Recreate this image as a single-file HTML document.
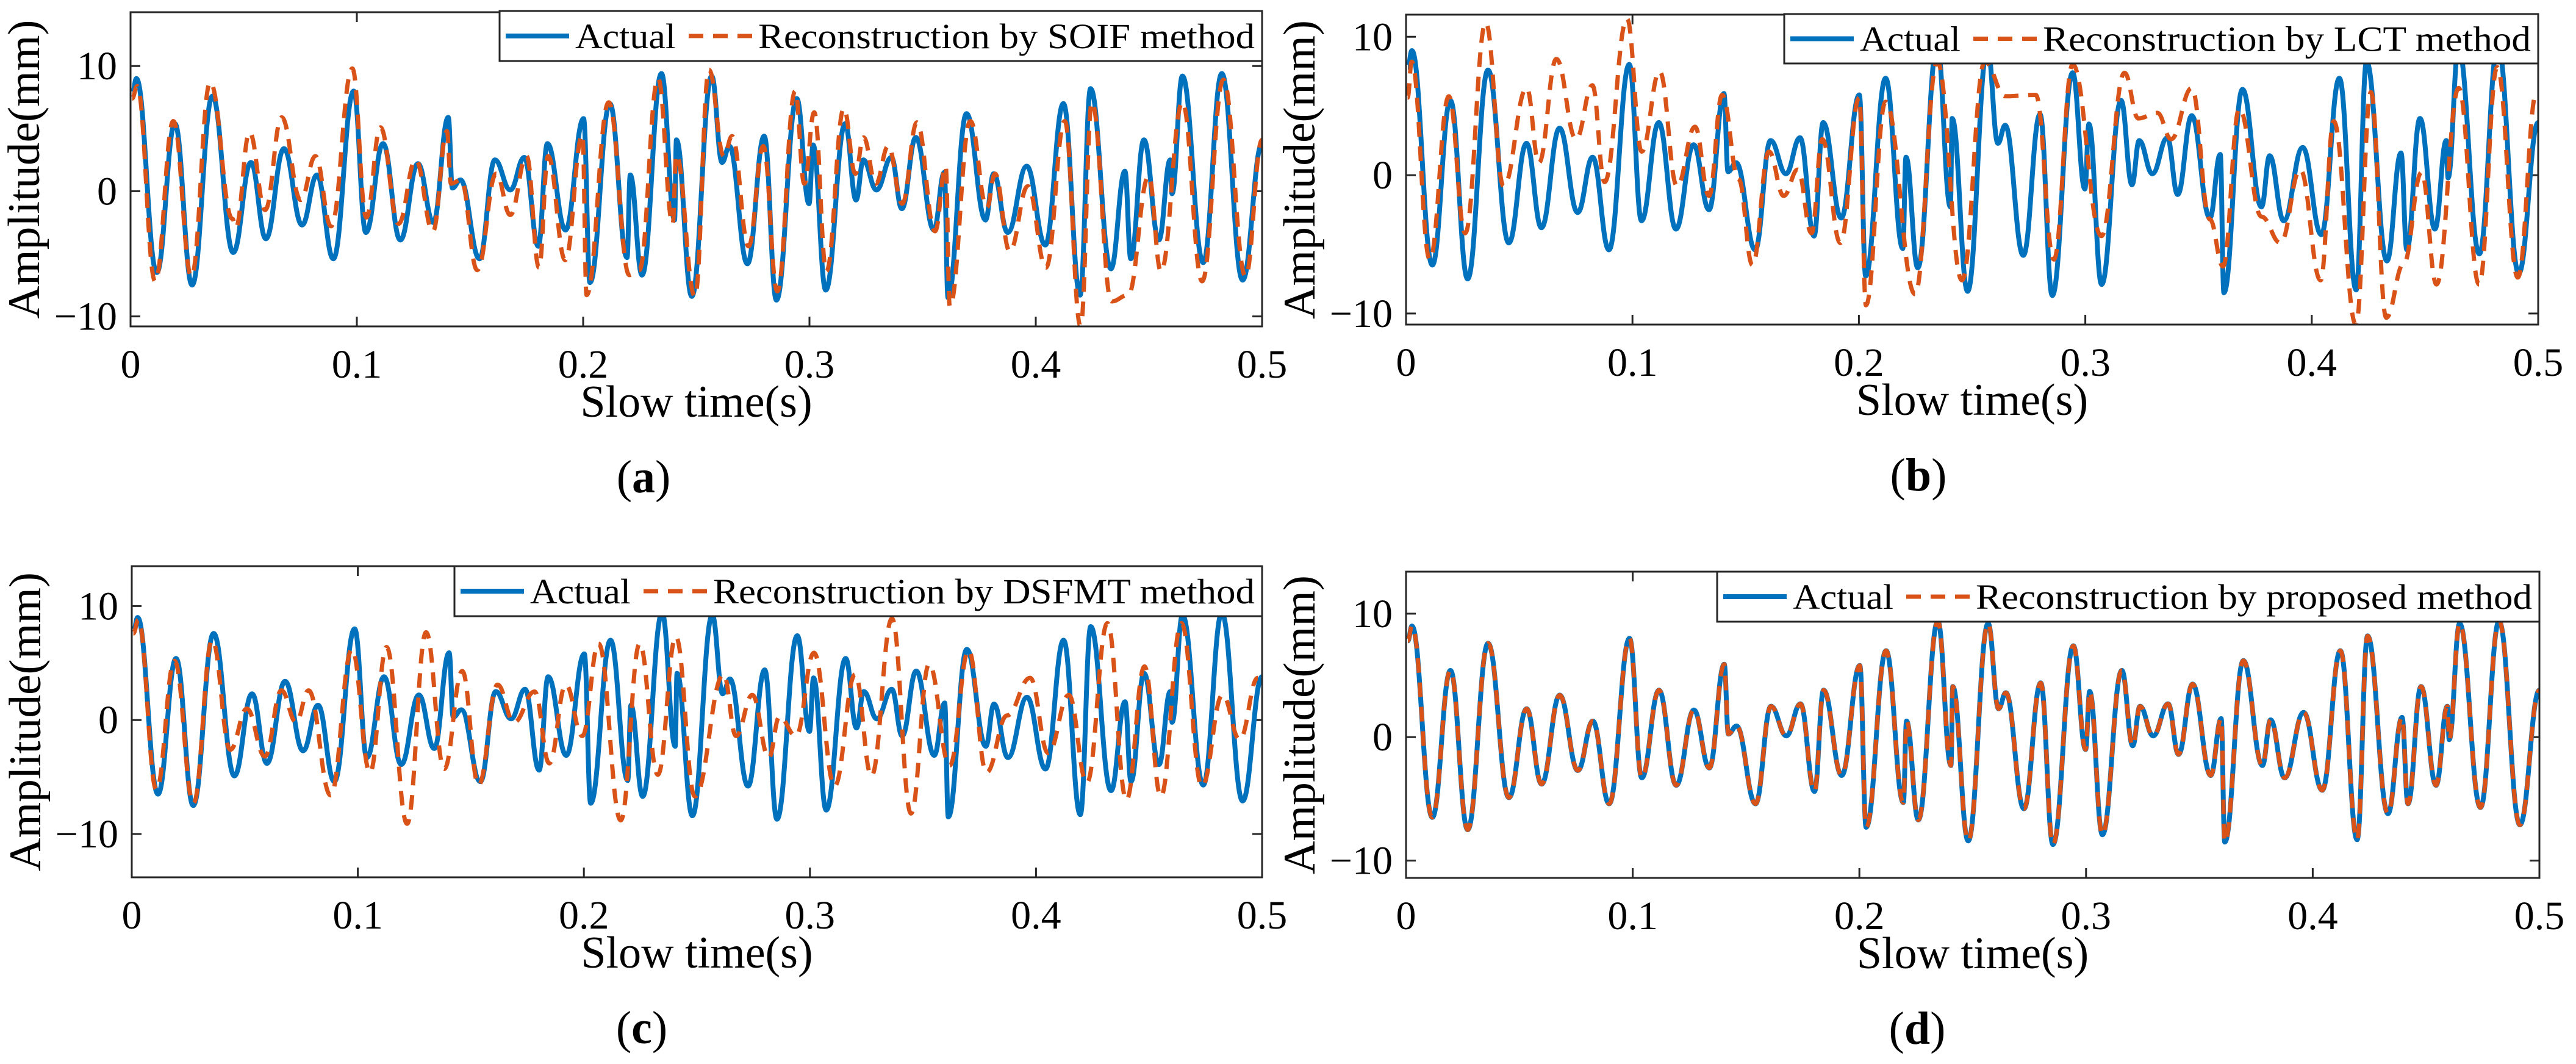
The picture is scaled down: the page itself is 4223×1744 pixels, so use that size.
<!DOCTYPE html>
<html><head><meta charset="utf-8"><style>
html,body{margin:0;padding:0;background:#fff}
svg{display:block}
text{font-family:"Liberation Serif",serif;fill:#000}
</style></head><body>
<svg id="fig" width="4223" height="1744" viewBox="0 0 4223 1744" xmlns="http://www.w3.org/2000/svg"></svg>
<script>
// ---- data (time in ms, amplitude in mm) at signal extrema ----
const actualT=[0.8,2.6,11.6,19.6,27.2,36.2,45.4,53.2,59.8,67.8,75.8,82.4,89.6,98.6,104,111.6,119.2,127,133.8,140.4,142.2,145.8,154.2,161,167.8,174,180.2,184.2,192.2,200.2,203,211.8,219.4,220.8,226,234.6,240.4,241.2,248,256.8,261.4,264.6,272.6,280,285.4,294.4,299.8,301.6,307.2,315.8,320.6,323.8,329.6,336.2,340.8,347,355,359.6,361.2,369.4,377.8,381.4,387.6,396,404.2,412.2,419.6,424.2,433.2,439.4,442,447.8,454.4,459.4,460.2,464.8,474,482.2,491.4,500];
const actualV=[7.8,9.0,-6.5,5.4,-7.5,7.6,-4.9,2.3,-3.8,3.4,-2.7,1.3,-5.4,8.0,-3.3,3.8,-3.9,2.2,-2.5,5.9,0.25,0.9,-5.4,2.5,0.1,2.7,-4.4,3.8,-3.1,5.8,-7.3,7.0,-5.3,1.3,-6.7,9.4,-2.3,4.1,-8.4,9.2,2.3,3.6,-5.8,4.4,-8.7,7.4,-1.0,3.7,-7.9,5.4,-0.7,2.5,0.1,2.7,-1.4,4.3,-3.1,1.5,-8.5,6.2,-2.3,1.4,-3.3,2.0,-4.3,7.0,-8.3,8.2,-6.2,1.6,-5.4,4.1,-3.9,2.5,-0.2,9.2,-5.7,9.4,-7.1,3.8];
const soifT=[0.7,2.9,10.9,18.9,26.9,35.2,45.0,46.5,52.6,59.5,66.8,75.2,81.7,88.6,98.0,104.2,110.4,118.4,126.0,133.6,139.8,141.6,146.0,153.2,161.6,167.8,175.0,180.5,184.5,192.1,199.7,201.5,211.3,220.4,224.8,233.1,239.6,241.1,249.4,255.6,262.2,265.8,273.1,279.6,285.8,293.7,297.7,302.1,307.5,315.2,320.3,323.9,329.3,334.8,341.0,347.5,355.5,360.2,362.0,371.1,378.4,382.0,388.5,396.5,404.5,412.8,419.8,424.8,433.5,440.8,449.9,455.3,464.8,473.5,482.9,492.7,500];
const soifV=[7.4,8.4,-7.2,5.6,-6.8,8.7,-2.2,-2.9,4.7,-1.5,5.9,-0.7,2.8,-2.8,9.8,-2.1,5.1,-2.6,2.5,-3.2,4.8,0.6,0.9,-6.3,1.4,-1.9,2.8,-6.1,2.8,-5.5,4.5,-8.3,7.1,-6.7,-6.3,9.0,-2.6,2.9,-8.4,9.7,2.8,4.4,-4.4,3.6,-8.0,8.0,0.6,6.3,-6.4,6.6,1.4,4.3,0.6,3.6,-1.0,5.5,-3.2,2.0,-9.2,5.6,-1.3,1.4,-4.8,0.4,-6.1,5.6,-10.8,7.1,-8.8,-8.3,1.2,-6.4,7.1,-7.2,8.9,-6.8,4.1];
const lctT=[0.7,2.5,10.5,18.9,26.1,35.2,43.1,53.3,58.7,66.4,75.1,82.3,87.7,97.6,104.1,112.0,119.7,127.6,133.8,139.6,146.9,153.0,160.3,166.8,173.0,179.1,183.8,191.8,200.2,203.1,211.8,224.8,234.6,245.5,255.6,264.7,278.1,286.1,294.4,307.1,317.3,323.4,331.8,337.9,347.0,355.0,360.8,368.0,377.8,386.2,394.9,403.9,409.7,419.5,426.1,432.9,440.6,448.5,455.1,464.9,473.9,481.9,491.0,499.3];
const lctV=[5.6,8.2,-6.1,5.7,-4.2,11.0,-0.8,6.3,0.9,8.4,2.6,6.5,-0.5,11.3,1.7,7.5,-0.8,3.5,-1.5,5.8,-0.3,-6.5,1.7,-1.5,0.4,-4.2,2.6,-4.9,5.6,-9.4,5.3,-8.6,8.2,-7.6,8.2,5.7,5.8,-6.1,8.0,-4.4,7.4,4.1,4.5,2.6,6.3,-3.2,-6.6,4.8,-3.0,-4.9,0.4,-7.6,3.9,-10.8,6.0,-10.3,-6.4,0.2,-7.9,6.3,-7.9,7.8,-7.4,6.0];
const dsfmtT=[0.7,2.9,10.9,18.9,27.3,35.6,43.6,50.9,58.9,66.2,72.7,78.2,88.0,97.4,105.4,112.7,121.8,130.2,138.2,146.2,153.4,161.8,169.1,178.2,184.7,192.0,199.3,206.5,216.3,224.7,232.7,240.7,249.1,261.8,267.3,274.5,281.8,286.5,293.8,301.8,310.9,320.0,327.2,336.3,344.7,352.7,361.8,370.2,378.1,387.2,397.4,405.4,414.5,422.5,431.6,440.0,448.0,455.2,464.3,473.4,482.5,490.1,498.1];
const dsfmtV=[7.6,8.8,-6.1,5.2,-7.3,7.0,-2.6,1.0,-3.2,2.6,-0.2,2.6,-6.6,6.2,-4.6,6.4,-9.1,7.7,-4.3,4.3,-5.7,3.1,-0.2,2.5,-3.8,3.1,-1.4,6.7,-8.8,6.7,-4.8,7.3,-6.7,4.0,-1.4,2.2,-3.3,0.3,-1.4,5.9,-5.8,4.0,-4.9,8.9,-8.2,4.9,-4.0,6.1,-4.6,0.4,3.7,-2.9,2.2,-5.5,8.5,-7.0,4.7,-6.7,8.5,-5.8,2.2,-1.7,3.7];
const xTicks=[0,0.1,0.2,0.3,0.4,0.5];
const xTickLabels=["0","0.1","0.2","0.3","0.4","0.5"];
const yTicks=[-10,0,10];
const yTickLabels=["\u221210","0","10"];

const NS="http://www.w3.org/2000/svg";
const svg=document.getElementById('fig');
function mk(tag,attrs,parent){const e=document.createElementNS(NS,tag);for(const k in attrs)e.setAttribute(k,attrs[k]);(parent||svg).appendChild(e);return e;}

const panels=[
 {id:'a',L:214,R:2069,T:20,B:535,ymin:-10.8,ymax:14.3,lg:819,lgT:18,lgB:100,name:'Reconstruction by SOIF method',rt:soifT,rv:soifV,cap:1055},
 {id:'b',L:2305,R:4161,T:24,B:532,ymin:-10.8,ymax:11.6,lg:2925,lgT:23,lgB:104,name:'Reconstruction by LCT method',rt:lctT,rv:lctV,cap:3145},
 {id:'c',L:216,R:2069,T:928,B:1438,ymin:-13.8,ymax:13.5,lg:745,lgT:928,lgB:1010,name:'Reconstruction by DSFMT method',rt:dsfmtT,rv:dsfmtV,cap:1052},
 {id:'d',L:2305,R:4163,T:937,B:1439,ymin:-11.4,ymax:13.4,lg:2815,lgT:937,lgB:1019,name:'Reconstruction by proposed method',rt:actualT,rv:actualV,cap:3143}
];

function pathFrom(ts,vs,xs,ys){
  let d='M'+xs(ts[0]/1000).toFixed(1)+','+ys(vs[0]).toFixed(1);
  for(let i=1;i<ts.length;i++){
    const x0=xs(ts[i-1]/1000),y0=ys(vs[i-1]),x1=xs(ts[i]/1000),y1=ys(vs[i]);
    const dx=(x1-x0)/2.4;
    d+=' C'+(x0+dx).toFixed(1)+','+y0.toFixed(1)+' '+(x1-dx).toFixed(1)+','+y1.toFixed(1)+' '+x1.toFixed(1)+','+y1.toFixed(1);
  }
  return d;
}

panels.forEach(p=>{
  const g=mk('g',{});
  
  
  const xs=t=>p.L+(t/0.5)*(p.R-p.L);
  const ys=v=>p.B-(v-p.ymin)/(p.ymax-p.ymin)*(p.B-p.T);
  const cp=mk('clipPath',{id:'clip'+p.id},g);
  mk('rect',{x:p.L,y:p.T,width:p.R-p.L,height:p.B-p.T},cp);
  // ticks
  xTicks.forEach((t,i)=>{
    const x=xs(t);
    const tk=mk('path',{d:`M${x},${p.B}V${p.B-16}M${x},${p.T}V${p.T+16}`,stroke:'#262626','stroke-width':3},g);
    
    
    const lb=mk('text',{x:x,y:p.B+84,'font-size':66,'text-anchor':'middle'},g);
    lb.textContent=xTickLabels[i];
    
    
  });
  yTicks.forEach((v,i)=>{
    const y=ys(v);
    const tk=mk('path',{d:`M${p.L},${y}H${p.L+16}M${p.R},${y}H${p.R-16}`,stroke:'#262626','stroke-width':3},g);
    
    
    const lb=mk('text',{x:p.L-22,y:y+22,'font-size':66,'text-anchor':'end'},g);
    lb.textContent=yTickLabels[i];
    
    
  });
  // series
  const lines=mk('g',{'clip-path':`url(#clip${p.id})`,fill:'none','stroke-linejoin':'round'},g);
  const a=mk('path',{d:pathFrom(actualT,actualV,xs,ys),stroke:'#0072BD','stroke-width':8},lines);
  
  
  const r=mk('path',{d:pathFrom(p.rt,p.rv,xs,ys),stroke:'#D95319','stroke-width':7,'stroke-dasharray':'24 16'},lines);
  
  
  // axes box
  const bx=mk('rect',{x:p.L,y:p.T,width:p.R-p.L,height:p.B-p.T,fill:'none',stroke:'#262626','stroke-width':3},g);
  
  
  // legend
  const lg=mk('g',{},g);
  
  
  mk('rect',{x:p.lg,y:p.lgT,width:p.R-p.lg,height:p.lgB-p.lgT,fill:'#fff',stroke:'#262626','stroke-width':3},lg);
  const cy=(p.lgT+p.lgB)/2;
  mk('line',{x1:p.lg+10,x2:p.lg+114,y1:cy,y2:cy,stroke:'#0072BD','stroke-width':8},lg);
  const t1=mk('text',{x:p.lg+124,y:cy+20,'font-size':58,textLength:165,lengthAdjust:'spacingAndGlyphs'},lg);
  t1.textContent='Actual';
  
  
  mk('line',{x1:p.lg+310,x2:p.lg+414,y1:cy,y2:cy,stroke:'#D95319','stroke-width':7,'stroke-dasharray':'24 16'},lg);
  const t2=mk('text',{x:p.lg+424,y:cy+20,'font-size':58,textLength:(p.R-12)-(p.lg+424),lengthAdjust:'spacingAndGlyphs'},lg);
  t2.textContent=p.name;
  
  
  // axis labels
  const xl=mk('text',{x:(p.L+p.R)/2,y:p.B+148,'font-size':74,'text-anchor':'middle'},g);
  xl.textContent='Slow time(s)';
  
  
  const ycx=p.L-150, ycy=(p.T+p.B)/2;
  const yl=mk('text',{x:ycx,y:ycy,'font-size':74,'text-anchor':'middle',transform:`rotate(-90 ${ycx} ${ycy})`,textLength:490,lengthAdjust:'spacingAndGlyphs'},g);
  yl.textContent='Amplitude(mm)';
  
  
  // caption
  const cap=mk('text',{x:p.cap,y:p.B+272,'font-size':76,'text-anchor':'middle'},g);
  cap.innerHTML='(<tspan font-weight="bold">'+p.id+'</tspan>)';
  
  
});
</script>
</body></html>
